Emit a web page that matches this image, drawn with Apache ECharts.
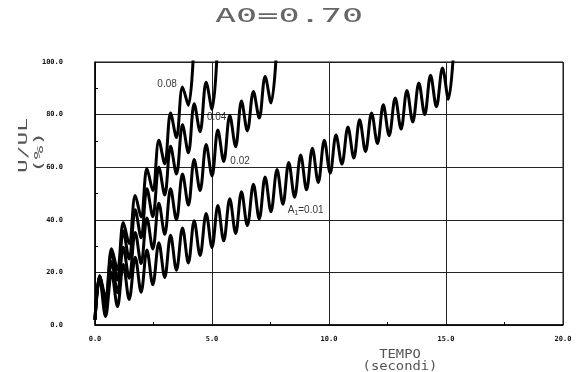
<!DOCTYPE html>
<html>
<head>
<meta charset="utf-8">
<title>A0=0.70</title>
<script src="https://cdn.jsdelivr.net/npm/echarts@6/dist/echarts.min.js"></script>
</head>
<body style="margin:0;background:#fff;">
<div id="main" style="width:577px;height:372px;"></div>
<script>
// istanti dei massimi / minimi (secondi)
var tempo = [
  0.00, 0.20, 0.45, 0.71, 0.96, 1.21, 1.46, 1.72, 1.97, 2.22,
  2.47, 2.73, 2.98, 3.23, 3.48, 3.74, 3.99, 4.24, 4.49, 4.75,
  5.00, 5.25, 5.50, 5.76, 6.01, 6.26, 6.51, 6.77, 7.02, 7.27,
  7.52, 7.78, 8.03, 8.28, 8.53, 8.79, 9.04, 9.29, 9.54, 9.80,
  10.05, 10.30, 10.55, 10.81, 11.06, 11.31, 11.56, 11.82, 12.07, 12.32,
  12.57, 12.83, 13.08, 13.33, 13.58, 13.84, 14.09, 14.34, 14.59, 14.85,
  15.10, 15.35
];

// U/UL (%) per ogni A1
var a001 = [
  2, 17.8, 3.2, 20, 7, 23, 9.7, 25.8, 12.5, 28.5,
  15.3, 31.3, 18.1, 34.1, 20.8, 36.9, 23.6, 39.6, 26.4, 42.4,
  29.5, 45.4, 32, 48, 34.8, 50.7, 37.8, 53.5, 40.3, 56.3,
  43.1, 59.1, 45.9, 61.8, 48.6, 64.6, 51.4, 67.2, 54.2, 70.2,
  57.8, 72.2, 61.2, 75.3, 63.5, 78, 66, 80.6, 69, 83.7,
  72, 86.3, 74.5, 89.2, 77.2, 92, 80, 95, 83, 97.7,
  85.8, 108
];
var a002 = [
  2, 18.5, 6.7, 24.1, 12.3, 29.6, 17.8, 35.2, 23.4, 40.7,
  28.9, 46.3, 34.5, 51.8, 40, 57.4, 45.6, 62.9, 51.1, 68.6,
  56.7, 74.1, 62.2, 79.7, 67.8, 85.2, 73.8, 88.8, 78.7, 94.5,
  84.4, 108
];
var a004 = [
  2, 18.5, 8.9, 27.7, 17.1, 35.7, 25.1, 43.8, 33.2, 51.8,
  41.2, 60, 49.4, 68, 57.4, 76.1, 65.5, 84.1, 73.5, 92.3,
  82, 110
];
var a008 = [
  2, 18.8, 10.7, 29, 20.9, 39, 30.9, 49.2, 41.1, 59.5,
  51.1, 70.2, 61.3, 80.6, 71.3, 90.5, 83.5, 110
];

// etichette delle curve: [tempo, U/UL, testo]
var etichette = [
  [3.08, 91.6, '0.08'],
  [5.2, 79, '0.04'],
  [6.2, 62.4, '0.02'],
  [9.0, 43.7, 'A{s|1}=0.01']
];

var curve = [a001, a002, a004, a008];

function punti(valori) {
  var out = [];
  for (var i = 0; i < valori.length; i++) {
    out.push([tempo[i], valori[i]]);
  }
  return out;
}

var myChart = echarts.init(document.getElementById('main'));

var series = [];
for (var i = 0; i < curve.length; i++) {
  series.push({
    type: 'line',
    data: punti(curve[i]),
    smooth: 0.35,
    symbol: 'none',
    clip: true,
    lineStyle: { color: '#000', width: 3 },
    z: 3
  });
}
series.push({
  type: 'scatter',
  symbolSize: 0,
  silent: true,
  data: etichette.map(function (e) { return { value: [e[0], e[1]], name: e[2] }; }),
  label: {
    show: true,
    position: 'inside',
    formatter: function (p) { return p.name; },
    fontFamily: 'Liberation Sans',
    fontSize: 10,
    color: '#000',
    rich: {
      s: { fontSize: 7, fontFamily: 'Liberation Sans', color: '#000', padding: [5, 0, 0, 0] }
    }
  },
  z: 5
});

var tickFont = {
  fontFamily: 'DejaVu Sans Mono',
  fontWeight: 'bold',
  fontSize: 7,
  color: '#111'
};

var option = {
  animation: false,
  backgroundColor: '#fff',
  grid: {
    left: 95, right: 14, top: 62, bottom: 47,
    show: true, borderColor: '#111', borderWidth: 1
  },
  xAxis: {
    type: 'value', min: 0, max: 20, interval: 5,
    axisLine: { lineStyle: { color: '#000', width: 1.5 } },
    axisTick: { show: false, inside: true },
    minorTick: { show: true, splitNumber: 2, length: 3, lineStyle: { color: '#000' } },
    splitLine: { show: true, lineStyle: { color: '#222', width: 1 } },
    axisLabel: Object.assign({ margin: 11, formatter: function (v) { return v.toFixed(1); } }, tickFont)
  },
  yAxis: {
    type: 'value', min: 0, max: 100, interval: 20,
    axisLine: { show: true, lineStyle: { color: '#000', width: 1.5 } },
    axisTick: { show: false, inside: true },
    minorTick: { show: true, splitNumber: 2, length: 3, lineStyle: { color: '#000' } },
    splitLine: { show: true, lineStyle: { color: '#222', width: 1 } },
    axisLabel: Object.assign({ margin: 32, formatter: function (v) { return v.toFixed(1); } }, tickFont)
  },
  graphic: [
    {
      type: 'text', x: 289, y: 17, scaleX: 1.85,
      style: {
        text: 'A0=0.70', font: '19px "DejaVu Sans Mono"', fill: '#666',
        textAlign: 'center', textVerticalAlign: 'middle', align: 'center', verticalAlign: 'middle'
      }
    },
    {
      type: 'text', x: 32, y: 173, rotation: Math.PI / 2, scaleX: 1.9,
      style: {
        text: 'U/UL\n(%)', font: '12px "DejaVu Sans Mono"', fill: '#555', lineHeight: 16,
        textAlign: 'left', textVerticalAlign: 'middle', align: 'left', verticalAlign: 'middle'
      }
    },
    {
      type: 'text', x: 400, y: 361, scaleX: 1.15,
      style: {
        text: 'TEMPO\n(secondi)', font: '12px "DejaVu Sans Mono"', fill: '#555', lineHeight: 12,
        textAlign: 'center', textVerticalAlign: 'middle', align: 'center', verticalAlign: 'middle'
      }
    }
  ],
  series: series
};

myChart.setOption(option);
</script>
</body>
</html>
